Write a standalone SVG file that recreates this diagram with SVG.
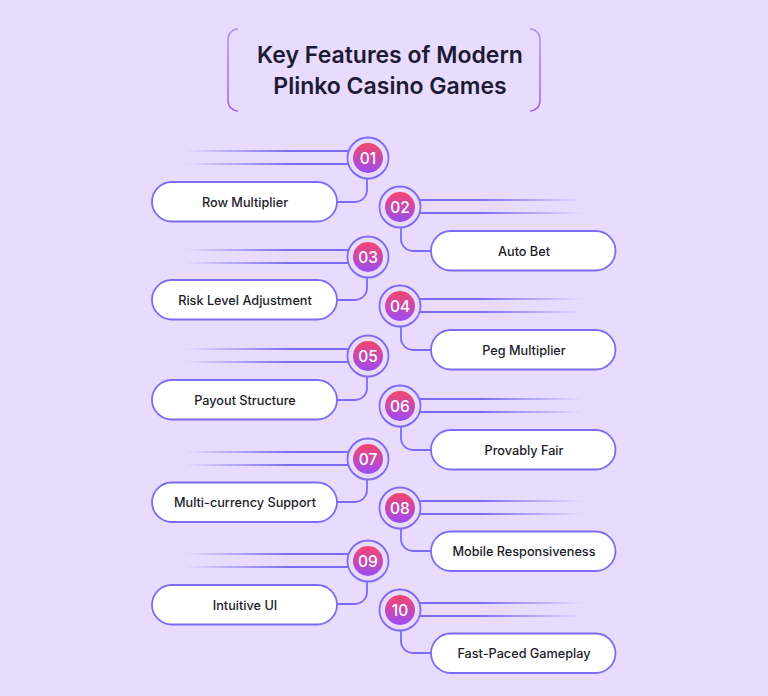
<svg xmlns="http://www.w3.org/2000/svg" width="768" height="696" viewBox="0 0 768 696">
<style>
.pill{fill:#ffffff;stroke:#7C6CF5;stroke-width:1.8}
.ring{fill:#E9DBFD;stroke:#7C6CF5;stroke-width:1.8}
.dot{fill:url(#badge)}
.num{font-family:Inter,"Liberation Sans",sans-serif;font-size:15.5px;font-weight:500;fill:#ffffff;text-anchor:middle}
.lbl{font-family:Inter,"Liberation Sans",sans-serif;font-size:12.7px;font-weight:500;fill:#1C1B29;text-anchor:middle}
.ttl{font-family:Inter,"Liberation Sans",sans-serif;font-size:23px;font-weight:600;fill:#1C1B33;text-anchor:middle}
.con{fill:none;stroke:#7C6CF5;stroke-width:1.8}
.ll{stroke:url(#fadeL);stroke-width:2}
.rl{stroke:url(#fadeR);stroke-width:2}
</style>
<defs>
<linearGradient id="badge" x1="0" y1="0" x2="0" y2="1">
<stop offset="0" stop-color="#F7456A"/>
<stop offset="1" stop-color="#9B4CF4"/>
</linearGradient>
<linearGradient id="fadeL" gradientUnits="userSpaceOnUse" x1="185" y1="0" x2="290" y2="0">
<stop offset="0" stop-color="#7C6CF5" stop-opacity="0"/>
<stop offset="1" stop-color="#7C6CF5" stop-opacity="1"/>
</linearGradient>
<linearGradient id="fadeR" gradientUnits="userSpaceOnUse" x1="583" y1="0" x2="480" y2="0">
<stop offset="0" stop-color="#7C6CF5" stop-opacity="0"/>
<stop offset="1" stop-color="#7C6CF5" stop-opacity="1"/>
</linearGradient>
<linearGradient id="frame" x1="0" y1="0" x2="0" y2="1">
<stop offset="0" stop-color="#B48CF8"/>
<stop offset="1" stop-color="#9D5CF5"/>
</linearGradient>
</defs>
<rect width="768" height="696" fill="#E9DBFD"/>

<g id="title">
<path d="M238,29 A10,10 0 0 0 228,39 V101 A10,10 0 0 0 238,111" fill="none" stroke="url(#frame)" stroke-width="1.5"/>
<path d="M530,29 A10,10 0 0 1 540,39 V101 A10,10 0 0 1 530,111" fill="none" stroke="url(#frame)" stroke-width="1.5"/>
<text class="ttl" x="390" y="63">Key Features of Modern</text>
<text class="ttl" x="390" y="94">Plinko Casino Games</text>
</g>

<g id="decor-lines">
<line class="ll" x1="185" y1="151" x2="350" y2="151"/><line class="ll" x1="185" y1="164" x2="350" y2="164"/>
<line class="rl" x1="418" y1="200" x2="583" y2="200"/><line class="rl" x1="418" y1="213" x2="583" y2="213"/>
<line class="ll" x1="185" y1="250" x2="350" y2="250"/><line class="ll" x1="185" y1="263" x2="350" y2="263"/>
<line class="rl" x1="418" y1="299" x2="583" y2="299"/><line class="rl" x1="418" y1="312" x2="583" y2="312"/>
<line class="ll" x1="185" y1="349" x2="350" y2="349"/><line class="ll" x1="185" y1="362" x2="350" y2="362"/>
<line class="rl" x1="418" y1="399" x2="583" y2="399"/><line class="rl" x1="418" y1="412" x2="583" y2="412"/>
<line class="ll" x1="185" y1="452" x2="350" y2="452"/><line class="ll" x1="185" y1="465" x2="350" y2="465"/>
<line class="rl" x1="418" y1="501" x2="583" y2="501"/><line class="rl" x1="418" y1="514" x2="583" y2="514"/>
<line class="ll" x1="185" y1="554" x2="350" y2="554"/><line class="ll" x1="185" y1="567" x2="350" y2="567"/>
<line class="rl" x1="418" y1="603" x2="583" y2="603"/><line class="rl" x1="418" y1="616" x2="583" y2="616"/>
</g>

<g id="connectors">
<path class="con" d="M367,178.5 V190 A12,12 0 0 1 355,202 H337"/>
<path class="con" d="M401,227.5 V239 A12,12 0 0 0 413,251 H431"/>
<path class="con" d="M367,277.5 V288 A12,12 0 0 1 355,300 H337"/>
<path class="con" d="M401,326.5 V338 A12,12 0 0 0 413,350 H431"/>
<path class="con" d="M367,376.5 V388 A12,12 0 0 1 355,400 H337"/>
<path class="con" d="M401,426.5 V438 A12,12 0 0 0 413,450 H431"/>
<path class="con" d="M367,479.5 V490 A12,12 0 0 1 355,502 H337"/>
<path class="con" d="M401,528.5 V539 A12,12 0 0 0 413,551 H431"/>
<path class="con" d="M367,581.5 V592 A12,12 0 0 1 355,604 H337"/>
<path class="con" d="M401,630.5 V641 A12,12 0 0 0 413,653 H431"/>
</g>

<g id="feature-01">
<circle class="ring" cx="368" cy="158" r="20.5"/><circle class="dot" cx="368" cy="158" r="15"/>
<text class="num" x="368" y="163.5">01</text>
<rect class="pill" x="152" y="182" width="185" height="39.5" rx="19.75"/>
<text class="lbl" x="245" y="206.5">Row Multiplier</text>
</g>
<g id="feature-02">
<circle class="ring" cx="400" cy="207" r="20.5"/><circle class="dot" cx="400" cy="207" r="15"/>
<text class="num" x="400" y="212.5">02</text>
<rect class="pill" x="431" y="231" width="184.5" height="39.5" rx="19.75"/>
<text class="lbl" x="524" y="255.5">Auto Bet</text>
</g>
<g id="feature-03">
<circle class="ring" cx="368" cy="257" r="20.5"/><circle class="dot" cx="368" cy="257" r="15"/>
<text class="num" x="368" y="262.5">03</text>
<rect class="pill" x="152" y="280" width="185" height="39.5" rx="19.75"/>
<text class="lbl" x="245" y="304.5">Risk Level Adjustment</text>
</g>
<g id="feature-04">
<circle class="ring" cx="400" cy="306" r="20.5"/><circle class="dot" cx="400" cy="306" r="15"/>
<text class="num" x="400" y="311.5">04</text>
<rect class="pill" x="431" y="330" width="184.5" height="39.5" rx="19.75"/>
<text class="lbl" x="524" y="354.5">Peg Multiplier</text>
</g>
<g id="feature-05">
<circle class="ring" cx="368" cy="356" r="20.5"/><circle class="dot" cx="368" cy="356" r="15"/>
<text class="num" x="368" y="361.5">05</text>
<rect class="pill" x="152" y="380" width="185" height="39.5" rx="19.75"/>
<text class="lbl" x="245" y="404.5">Payout Structure</text>
</g>
<g id="feature-06">
<circle class="ring" cx="400" cy="406" r="20.5"/><circle class="dot" cx="400" cy="406" r="15"/>
<text class="num" x="400" y="411.5">06</text>
<rect class="pill" x="431" y="430" width="184.5" height="39.5" rx="19.75"/>
<text class="lbl" x="524" y="454.5">Provably Fair</text>
</g>
<g id="feature-07">
<circle class="ring" cx="368" cy="459" r="20.5"/><circle class="dot" cx="368" cy="459" r="15"/>
<text class="num" x="368" y="464.5">07</text>
<rect class="pill" x="152" y="482.5" width="185" height="39.5" rx="19.75"/>
<text class="lbl" x="245" y="507">Multi-currency Support</text>
</g>
<g id="feature-08">
<circle class="ring" cx="400" cy="508" r="20.5"/><circle class="dot" cx="400" cy="508" r="15"/>
<text class="num" x="400" y="513.5">08</text>
<rect class="pill" x="431" y="531.5" width="184.5" height="39.5" rx="19.75"/>
<text class="lbl" x="524" y="556">Mobile Responsiveness</text>
</g>
<g id="feature-09">
<circle class="ring" cx="368" cy="561" r="20.5"/><circle class="dot" cx="368" cy="561" r="15"/>
<text class="num" x="368" y="566.5">09</text>
<rect class="pill" x="152" y="585" width="185" height="39.5" rx="19.75"/>
<text class="lbl" x="245" y="609.5">Intuitive UI</text>
</g>
<g id="feature-10">
<circle class="ring" cx="400" cy="610" r="20.5"/><circle class="dot" cx="400" cy="610" r="15"/>
<text class="num" x="400" y="615.5">10</text>
<rect class="pill" x="431" y="633.5" width="184.5" height="39.5" rx="19.75"/>
<text class="lbl" x="524" y="658">Fast-Paced Gameplay</text>
</g>
</svg>
